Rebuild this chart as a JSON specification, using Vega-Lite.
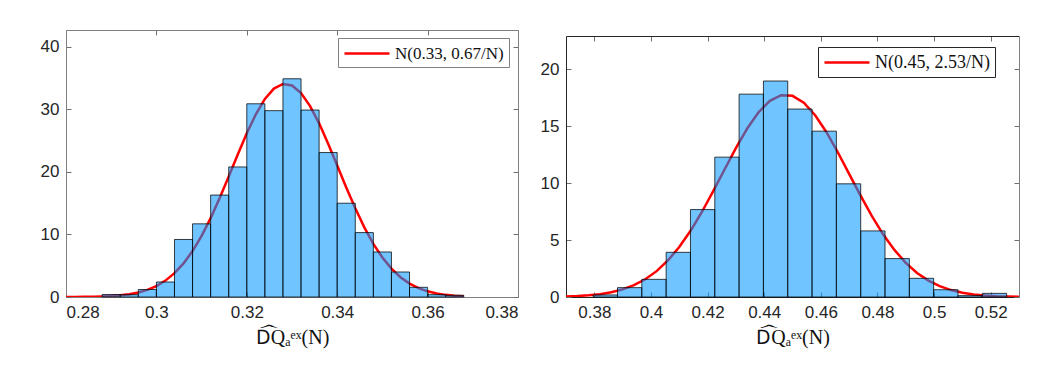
{
  "$schema": "https://vega.github.io/schema/vega-lite/v6.json",
  "background": "white",
  "padding": {"left": 40, "top": 29, "right": 5, "bottom": 5},
  "spacing": 21,
  "datasets": {
    "c1": [
      {"x":0.280,"y":0.006},{"x":0.282,"y":0.013},{"x":0.284,"y":0.025},{"x":0.286,"y":0.047},{"x":0.288,"y":0.085},
      {"x":0.290,"y":0.152},{"x":0.292,"y":0.263},{"x":0.294,"y":0.441},{"x":0.296,"y":0.720},{"x":0.298,"y":1.141},
      {"x":0.300,"y":1.755},{"x":0.302,"y":2.623},{"x":0.304,"y":3.806},{"x":0.306,"y":5.367},{"x":0.308,"y":7.35},
      {"x":0.310,"y":9.77},{"x":0.312,"y":12.61},{"x":0.314,"y":15.82},{"x":0.316,"y":19.27},{"x":0.318,"y":22.80},
      {"x":0.320,"y":26.19},{"x":0.322,"y":29.22},{"x":0.324,"y":31.67},{"x":0.326,"y":33.33},{"x":0.328,"y":34.07},
      {"x":0.330,"y":33.82},{"x":0.332,"y":32.61},{"x":0.334,"y":30.53},{"x":0.336,"y":27.77},{"x":0.338,"y":24.52},
      {"x":0.340,"y":21.04},{"x":0.342,"y":17.52},{"x":0.344,"y":14.18},{"x":0.346,"y":11.14},{"x":0.348,"y":8.50},
      {"x":0.350,"y":6.30},{"x":0.352,"y":4.54},{"x":0.354,"y":3.17},{"x":0.356,"y":2.15},{"x":0.358,"y":1.42},
      {"x":0.360,"y":0.909},{"x":0.362,"y":0.566},{"x":0.364,"y":0.342},{"x":0.366,"y":0.200},{"x":0.368,"y":0.114}
    ],
    "h1": [
      {"x0":0.288,"x1":0.292,"d":0.4},{"x0":0.292,"x1":0.296,"d":0.37},{"x0":0.296,"x1":0.300,"d":1.2},
      {"x0":0.300,"x1":0.304,"d":2.4},{"x0":0.304,"x1":0.308,"d":9.2},{"x0":0.308,"x1":0.312,"d":11.7},
      {"x0":0.312,"x1":0.316,"d":16.3},{"x0":0.316,"x1":0.320,"d":20.8},{"x0":0.320,"x1":0.324,"d":30.9},
      {"x0":0.324,"x1":0.328,"d":29.8},{"x0":0.328,"x1":0.332,"d":34.9},{"x0":0.332,"x1":0.336,"d":29.9},
      {"x0":0.336,"x1":0.340,"d":23.1},{"x0":0.340,"x1":0.344,"d":15.0},{"x0":0.344,"x1":0.348,"d":10.3},
      {"x0":0.348,"x1":0.352,"d":7.2},{"x0":0.352,"x1":0.356,"d":4.0},{"x0":0.356,"x1":0.360,"d":1.55},
      {"x0":0.360,"x1":0.364,"d":0.37},{"x0":0.364,"x1":0.368,"d":0.27}
    ],
    "c2": [
      {"x":0.370,"y":0.046},{"x":0.374,"y":0.084},{"x":0.378,"y":0.147},{"x":0.382,"y":0.251},{"x":0.386,"y":0.416},
      {"x":0.390,"y":0.666},{"x":0.394,"y":1.034},{"x":0.398,"y":1.556},{"x":0.402,"y":2.268},{"x":0.406,"y":3.204},
      {"x":0.410,"y":4.383},{"x":0.414,"y":5.810},{"x":0.418,"y":7.460},{"x":0.422,"y":9.282},{"x":0.426,"y":11.19},
      {"x":0.430,"y":13.06},{"x":0.434,"y":14.78},{"x":0.438,"y":16.20},{"x":0.442,"y":17.21},{"x":0.446,"y":17.71},
      {"x":0.450,"y":17.65},{"x":0.454,"y":17.05},{"x":0.458,"y":15.95},{"x":0.462,"y":14.46},{"x":0.466,"y":12.70},
      {"x":0.470,"y":10.80},{"x":0.474,"y":8.91},{"x":0.478,"y":7.11},{"x":0.482,"y":5.50},{"x":0.486,"y":4.13},
      {"x":0.490,"y":3.00},{"x":0.494,"y":2.109},{"x":0.498,"y":1.438},{"x":0.502,"y":0.950},{"x":0.506,"y":0.608},
      {"x":0.510,"y":0.377},{"x":0.514,"y":0.226},{"x":0.518,"y":0.132},{"x":0.522,"y":0.074},{"x":0.526,"y":0.041},
      {"x":0.530,"y":0.022}
    ],
    "h2": [
      {"x0":0.3796,"x1":0.38819,"d":0.18},{"x0":0.38819,"x1":0.39678,"d":0.82},{"x0":0.39678,"x1":0.40537,"d":1.55},
      {"x0":0.40537,"x1":0.41396,"d":3.92},{"x0":0.41396,"x1":0.42255,"d":7.67},{"x0":0.42255,"x1":0.43114,"d":12.27},
      {"x0":0.43114,"x1":0.43973,"d":17.80},{"x0":0.43973,"x1":0.44832,"d":18.95},{"x0":0.44832,"x1":0.45691,"d":16.49},
      {"x0":0.45691,"x1":0.4655,"d":14.55},{"x0":0.4655,"x1":0.47409,"d":9.93},{"x0":0.47409,"x1":0.48268,"d":5.80},
      {"x0":0.48268,"x1":0.49127,"d":3.37},{"x0":0.49127,"x1":0.49986,"d":1.64},{"x0":0.49986,"x1":0.50845,"d":0.64},
      {"x0":0.50845,"x1":0.51704,"d":0.12},{"x0":0.51704,"x1":0.52563,"d":0.32}
    ]
  },
  "config": {
    "view": {"stroke": null},
    "axis": {
      "grid": false,
      "labelFont": "Liberation Sans",
      "labelFontSize": 17,
      "labelColor": "#262626",
      "tickSize": -5,
      "tickColor": "#707070",
      "tickWidth": 1,
      "labelPadding": 12,
      "domainWidth": 1,
      "titleFont": "Liberation Serif, DejaVu Serif",
      "titleFontSize": 20,
      "titleFontWeight": "normal",
      "titleColor": "#111111"
    },
    "legend": {
      "orient": "none",
      "fillColor": "white",
      "padding": 5,
      "cornerRadius": 0,
      "symbolStrokeWidth": 2.5,
      "symbolSize": 324,
      "labelFont": "Liberation Serif",
      "labelFontSize": 17,
      "labelColor": "#111111",
      "labelOffset": 31,
      "title": null
    }
  },
  "resolve": {"scale": {"color": "independent"}, "legend": {"color": "independent"}},
  "hconcat": [
    {
      "width": 452,
      "height": 267,
      "resolve": {"axis": {"x": "independent", "y": "independent"}},
      "layer": [
        {
          "data": {"name": "c1"},
          "mark": {"type": "line", "color": "#ff0000", "strokeWidth": 2.5, "clip": true},
          "encoding": {
            "x": {"field": "x", "type": "quantitative",
                  "scale": {"domain": [0.28, 0.38], "nice": false, "zero": false},
                  "axis": {"orient": "bottom", "values": [0.28, 0.3, 0.32, 0.34, 0.36, 0.38], "format": "~g",
                           "title": "D\u1dcdQ\u2090\u1d49\u02e3(N)", "titlePadding": 7, "domainColor": "#808080"}},
            "y": {"field": "y", "type": "quantitative",
                  "scale": {"domain": [0, 42.7], "nice": false},
                  "axis": {"orient": "left", "values": [0, 10, 20, 30, 40], "title": null, "domainColor": "#808080"}},
            "color": {"datum": "N(0.33, 0.67/N)", "type": "nominal",
                      "scale": {"range": ["#ff0000"]},
                      "legend": {"legendX": 272, "legendY": 8, "strokeColor": "#808080", "symbolType": "M-1,0H4", "symbolSize": 324}}
          }
        },
        {
          "data": {"name": "h1"},
          "mark": {"type": "rect", "fill": "#0096ff", "fillOpacity": 0.56, "stroke": "#000000", "strokeOpacity": 0.75, "strokeWidth": 1},
          "encoding": {
            "x": {"field": "x0", "type": "quantitative",
                  "axis": {"orient": "top", "values": [0.28, 0.3, 0.32, 0.34, 0.36, 0.38], "labels": false, "title": null, "domainColor": "#808080"}},
            "x2": {"field": "x1"},
            "y": {"field": "d", "type": "quantitative",
                  "axis": {"orient": "right", "values": [0, 10, 20, 30, 40], "labels": false, "title": null, "domainColor": "#808080"}},
            "y2": {"datum": 0}
          }
        }
      ]
    },
    {
      "width": 453,
      "height": 267,
      "resolve": {"axis": {"x": "independent", "y": "independent"}},
      "layer": [
        {
          "data": {"name": "c2"},
          "mark": {"type": "line", "color": "#ff0000", "strokeWidth": 2.5, "clip": true},
          "encoding": {
            "x": {"field": "x", "type": "quantitative",
                  "scale": {"domain": [0.37, 0.53], "nice": false, "zero": false},
                  "axis": {"orient": "bottom", "values": [0.38, 0.4, 0.42, 0.44, 0.46, 0.48, 0.5, 0.52], "format": "~g",
                           "title": "D\u1dcdQ\u2090\u1d49\u02e3(N)", "titlePadding": 7, "domainColor": "#262626"}},
            "y": {"field": "y", "type": "quantitative",
                  "scale": {"domain": [0, 22.9], "nice": false, "range": [267, 6]},
                  "axis": {"orient": "left", "values": [0, 5, 10, 15, 20], "title": null, "domainColor": "#262626"}},
            "color": {"datum": "N(0.45, 2.53/N)", "type": "nominal",
                      "scale": {"range": ["#ff0000"]},
                      "legend": {"legendX": 252, "legendY": 17, "strokeColor": "#262626", "labelFontSize": 18, "symbolType": "M-1,0H4", "symbolSize": 324}}
          }
        },
        {
          "data": {"name": "h2"},
          "mark": {"type": "rect", "fill": "#0096ff", "fillOpacity": 0.56, "stroke": "#000000", "strokeOpacity": 0.75, "strokeWidth": 1},
          "encoding": {
            "x": {"field": "x0", "type": "quantitative",
                  "axis": {"orient": "top", "offset": -6, "values": [0.38, 0.4, 0.42, 0.44, 0.46, 0.48, 0.5, 0.52], "labels": false, "title": null, "domainColor": "#262626"}},
            "x2": {"field": "x1"},
            "y": {"field": "d", "type": "quantitative",
                  "axis": {"orient": "right", "values": [0, 5, 10, 15, 20], "labels": false, "title": null, "domainColor": "#808080"}},
            "y2": {"datum": 0}
          }
        }
      ]
    }
  ]
}
